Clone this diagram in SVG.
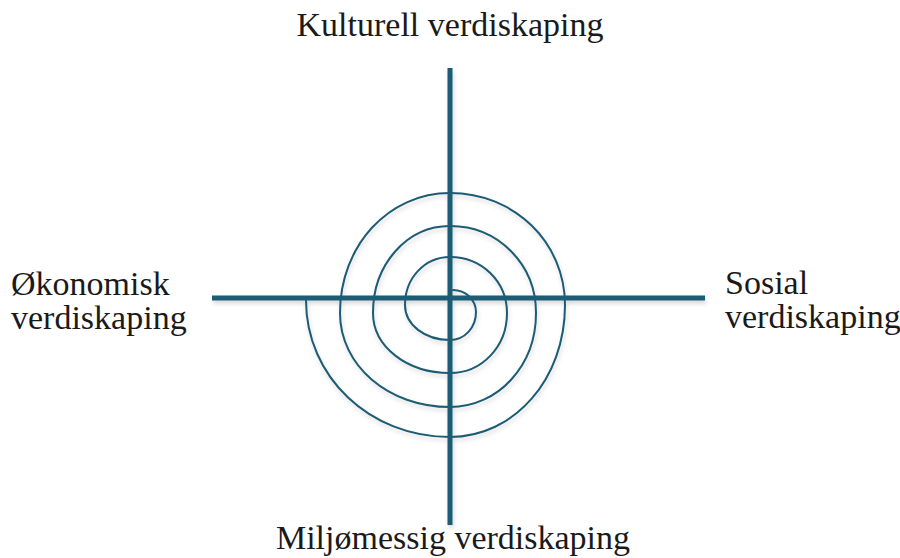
<svg xmlns="http://www.w3.org/2000/svg" width="900" height="558" viewBox="0 0 900 558">
<defs>
<filter id="sh" x="-10%" y="-10%" width="120%" height="120%">
<feDropShadow dx="1" dy="3" stdDeviation="2" flood-color="#000" flood-opacity="0.16"/>
</filter>
<style>
.axis{stroke:#1d5b74;stroke-width:5;fill:none}
.spiral{stroke:#1d5b74;stroke-width:2;fill:none;stroke-linejoin:round;stroke-linecap:round}
</style>
</defs>
<rect width="900" height="558" fill="#fff"/>
<g id="connectors" filter="url(#sh)">
<path class="spiral" d="M453,290 C465.7,290 476,299.9 476,312 C476,327.7 464.6,340 450,340 C424.8,340 405,324.6 405,305 C405,278.1 424.8,257 450,257 C481.9,257 507,281.6 507,313 C507,346.6 481.9,373 450,373 C406.9,373 373,346.6 373,313 C373,264.3 406.9,226 450,226 C498.2,226 536,264.3 536,313 C536,365.6 498.2,407 450,407 C388.4,407 340,365.6 340,313 C340,245.8 388.4,193 450,193 C514.4,193 565,242.3 565,305 C565,378.9 514.4,437 450,437 C369.4,437 306,376.7 306,300"/>
<line class="axis" x1="450" y1="68" x2="450" y2="525"/>
<line class="axis" x1="212" y1="298" x2="705" y2="298"/>
</g>
<g font-family="'Liberation Serif', 'Times New Roman', 'DejaVu Serif', serif" font-size="34" fill="#1a1a1a">
<g id="top"><text x="450" y="36" text-anchor="middle">Kulturell verdiskaping</text></g>
<g id="left"><text x="11" y="295">Økonomisk</text><text x="11" y="329">verdiskaping</text></g>
<g id="right"><text x="725" y="294">Sosial</text><text x="725" y="328">verdiskaping</text></g>
<g id="bottom"><text x="453" y="549" text-anchor="middle">Miljømessig verdiskaping</text></g>
</g>
</svg>
